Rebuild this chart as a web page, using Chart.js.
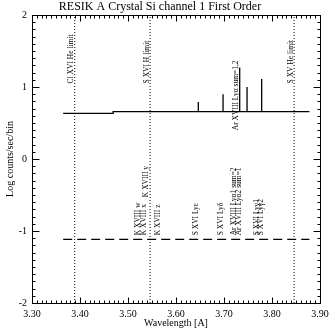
<!DOCTYPE html>
<html>
<head>
<meta charset="utf-8">
<script src="https://cdn.jsdelivr.net/npm/chart.js@4.4.1/dist/chart.umd.min.js"></script>
<style>
  html, body { margin: 0; padding: 0; background: #fff; }
  #wrap { width: 335px; height: 331px; }
</style>
</head>
<body>
<div id="wrap"><canvas id="spec"></canvas></div>
<script>
// spectrum extent and levels (log counts/sec/bin)
const specStart = 3.365;
const specStep = 3.469;
const specEnd = 3.878;
const levelLow = 0.635;
const levelHigh = 0.657;
const secondLevel = -1.115;

// emission spikes on the first order trace
const spikeWl = [3.6465, 3.698, 3.7327, 3.748, 3.7785];
const spikeTop = [0.79, 0.90, 1.27, 1.00, 1.11];

// ionisation limits
const limitNames = ["Cl XVI He limit", "S XVI H limit", "S XV He limit"];
const limitWl = [3.389, 3.546, 3.846];

// line identifications
const lineNames = ["K XVIII w", "K XVIII x", "K XVIII y", "K XVIII z",
  "S XVI Lyε", "S XVI Lyδ", "Ar XVIII Lyα1 sum=2", "Ar XVIII Lyα2 sum=1",
  "S XVI Lyγ1", "S XVI Lyγ2", "Ar XVIII Lyα sum=1,2"];
const lineWl = [3.5208, 3.534, 3.5375, 3.563, 3.6417, 3.693, 3.7208, 3.7306,
  3.769, 3.777, 3.7244];
// where each identification starts (bottom of the text)
const lineBase = [-1.06, -1.06, -0.53, -1.06, -1.06, -1.06, -1.06, -1.06,
  -1.06, -1.06, 0.40];

const xTicks = [3.30, 3.40, 3.50, 3.60, 3.70, 3.80, 3.90];
const yTicks = [-2, -1, 0, 1, 2];

const serif = "'Liberation Serif', 'DejaVu Serif', serif";

// first order trace: flat continuum with vertical spikes
const firstOrder = [
  { x: specStart, y: levelLow },
  { x: specStep, y: levelLow },
  { x: specStep, y: levelHigh },
];
spikeWl.forEach((wl, i) => {
  firstOrder.push({ x: wl, y: levelHigh });
  firstOrder.push({ x: wl, y: spikeTop[i] });
  firstOrder.push({ x: wl, y: levelHigh });
});
firstOrder.push({ x: specEnd, y: levelHigh });

const datasets = [
  {
    data: firstOrder,
    borderColor: "#000",
    borderWidth: 1.3,
  },
  {
    data: [{ x: specStart, y: secondLevel }, { x: specEnd, y: secondLevel }],
    borderColor: "#000",
    borderWidth: 1.2,
    borderDash: [9, 5],
  },
];
limitWl.forEach((wl) => {
  datasets.push({
    data: [{ x: wl, y: -2 }, { x: wl, y: 2 }],
    borderColor: "#000",
    borderWidth: 1,
    borderDash: [1, 2],
  });
});
datasets.forEach((d) => {
  d.showLine = true;
  d.pointRadius = 0;
  d.fill = false;
  d.tension = 0;
});

// box frame with inward major/minor ticks on all four sides
const frameTicks = {
  id: "frameTicks",
  afterDraw(chart) {
    const { ctx, scales: { x, y } } = chart;
    const l = Math.round(x.getPixelForValue(3.3)) + 0.5;
    const r = Math.round(x.getPixelForValue(3.9)) + 0.5;
    const t = Math.round(y.getPixelForValue(2)) + 0.5;
    const b = Math.round(y.getPixelForValue(-2)) + 0.5;
    ctx.save();
    ctx.strokeStyle = "#000";
    ctx.lineWidth = 1;
    ctx.strokeRect(l, t, r - l, b - t);
    ctx.beginPath();
    for (let i = 0; i <= 60; i++) {
      const px = Math.round(x.getPixelForValue(3.3 + i * 0.01)) + 0.5;
      const len = i % 10 === 0 ? 6 : 3;
      ctx.moveTo(px, b); ctx.lineTo(px, b - len);
      ctx.moveTo(px, t); ctx.lineTo(px, t + len);
    }
    for (let i = 0; i <= 40; i++) {
      const py = Math.round(y.getPixelForValue(-2 + i * 0.1)) + 0.5;
      const len = i % 10 === 0 ? 7 : 3;
      ctx.moveTo(l, py); ctx.lineTo(l + len, py);
      ctx.moveTo(r, py); ctx.lineTo(r - len, py);
    }
    ctx.stroke();
    ctx.restore();
  },
};

// rotated identification labels
const idLabels = {
  id: "idLabels",
  afterDatasetsDraw(chart) {
    const { ctx, scales: { x, y } } = chart;
    ctx.save();
    ctx.fillStyle = "#000";
    ctx.font = "7.5px " + serif;
    ctx.textAlign = "left";
    ctx.textBaseline = "middle";
    const put = (text, wl, base) => {
      ctx.save();
      ctx.translate(x.getPixelForValue(wl), y.getPixelForValue(base));
      ctx.rotate(-Math.PI / 2);
      ctx.fillText(text, 0, 0);
      ctx.restore();
    };
    limitNames.forEach((name, i) => put(name, limitWl[i] - 0.007, 1.05));
    lineNames.forEach((name, i) => put(name, lineWl[i], lineBase[i]));
    ctx.restore();
  },
};

new Chart(document.getElementById("spec"), {
  type: "scatter",
  data: { datasets },
  options: {
    responsive: true,
    maintainAspectRatio: false,
    animation: false,
    layout: { padding: { left: 0, right: 15, top: 0, bottom: 0 } },
    plugins: {
      legend: { display: false },
      tooltip: { enabled: false },
      title: {
        display: true,
        text: "RESIK A Crystal Si channel 1 First Order",
        color: "#000",
        font: { family: serif, size: 12, weight: "normal", lineHeight: 1 },
        padding: { top: 1, bottom: 2 },
      },
    },
    scales: {
      x: {
        type: "linear",
        min: 3.3,
        max: 3.9,
        grid: { display: false, drawTicks: false },
        border: { display: false },
        afterBuildTicks: (s) => { s.ticks = xTicks.map((v) => ({ value: v })); },
        afterFit: (s) => { s.height = 28; },
        ticks: {
          color: "#000",
          padding: 5,
          maxRotation: 0,
          font: { family: serif, size: 10 },
          callback: (v) => Number(v).toFixed(2),
        },
        title: {
          display: true,
          text: "Wavelength [A]",
          color: "#000",
          font: { family: serif, size: 10 },
          padding: { top: 0, bottom: 2 },
        },
      },
      y: {
        type: "linear",
        min: -2,
        max: 2,
        grid: { display: false, drawTicks: false },
        border: { display: false },
        afterBuildTicks: (s) => { s.ticks = yTicks.map((v) => ({ value: v })); },
        afterFit: (s) => { s.width = 32; },
        ticks: {
          color: "#000",
          padding: 5,
          font: { family: serif, size: 10 },
          callback: (v) => String(v),
        },
        title: {
          display: true,
          text: "Log counts/sec/bin",
          color: "#000",
          font: { family: serif, size: 10 },
          padding: { top: 4, bottom: 0 },
        },
      },
    },
  },
  plugins: [frameTicks, idLabels],
});
</script>
</body>
</html>
